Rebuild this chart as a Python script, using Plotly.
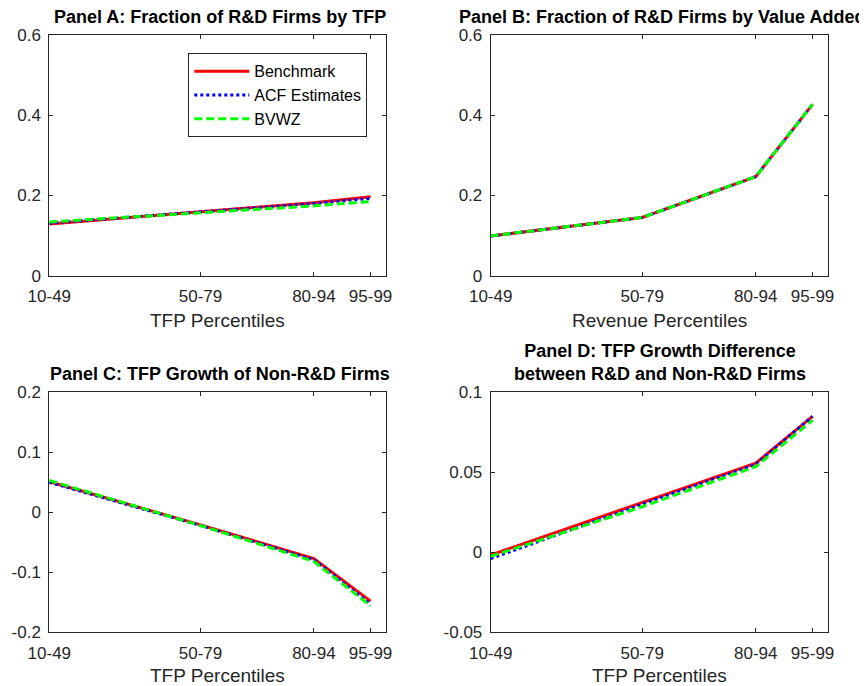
import plotly.graph_objects as go

# the page body has an 8px margin, so the figure is a bit smaller than the window
OFF = 8
W, H = 867 - OFF, 686 - OFF

# percentile groups (lower bound is the x position)
x_pos = [10, 50, 80, 95]
x_labels = ["10-49", "50-79", "80-94", "95-99"]

series_names = ["Benchmark", "ACF Estimates", "BVWZ"]

# Panel A: fraction of R&D firms by TFP
a_bench = [0.129, 0.160, 0.182, 0.197]
a_acf = [0.131, 0.159, 0.180, 0.193]
a_bvwz = [0.134, 0.157, 0.174, 0.185]

# Panel B: fraction of R&D firms by value added
b_bench = [0.099, 0.145, 0.247, 0.427]
b_acf = [0.099, 0.145, 0.247, 0.427]
b_bvwz = [0.099, 0.145, 0.247, 0.427]

# Panel C: TFP growth of non-R&D firms
c_bench = [0.051, -0.021, -0.077, -0.148]
c_acf = [0.050, -0.022, -0.079, -0.153]
c_bvwz = [0.053, -0.022, -0.082, -0.156]

# Panel D: TFP growth difference
d_bench = [-0.0017, 0.031, 0.0557, 0.085]
d_acf = [-0.0040, 0.030, 0.0550, 0.085]
d_bvwz = [-0.0025, 0.0285, 0.0535, 0.0825]

ab_ticks = [0, 0.2, 0.4, 0.6]
ab_ticktext = ["0", "0.2", "0.4", "0.6"]
c_ticks = [-0.2, -0.1, 0, 0.1, 0.2]
c_ticktext = ["-0.2", "-0.1", "0", "0.1", "0.2"]
d_ticks = [-0.05, 0, 0.05, 0.1]
d_ticktext = ["-0.05", "0", "0.05", "0.1"]

FONT = "Liberation Sans, Arial, Helvetica, sans-serif"
AX = "#262626"


# page pixel -> paper fraction
def px_x(p):
    return (p - OFF) / W


def px_y(p):
    return 1 - (p - OFF) / H


styles = [
    dict(color="#ff0000", width=3, dash="solid"),
    dict(color="#0000ff", width=3, dash="dot"),
    dict(color="#00ff00", width=3, dash="8px,4px"),
]

panels = [
    ("x", "y", [a_bench, a_acf, a_bvwz]),
    ("x2", "y2", [b_bench, b_acf, b_bvwz]),
    ("x3", "y3", [c_bench, c_acf, c_bvwz]),
    ("x4", "y4", [d_bench, d_acf, d_bvwz]),
]

fig = go.Figure()
for k, (xa, ya, data) in enumerate(panels):
    for name, vals, st in zip(series_names, data, styles):
        fig.add_trace(go.Scatter(
            x=x_pos, y=vals, mode="lines", name=name,
            line=st, xaxis=xa, yaxis=ya,
            showlegend=(k == 0),
        ))

left_dom = [px_x(49.3), px_x(385.7)]
right_dom = [px_x(490.7), px_x(827.7)]
top_dom = [px_y(275.7), px_y(35)]
bot_dom = [px_y(632.3), px_y(392.3)]


def xaxis(dom, anchor):
    return dict(
        domain=dom, anchor=anchor, range=[10, 99],
        tickvals=x_pos, ticktext=x_labels,
        ticks="inside", ticklen=4, tickcolor=AX, ticklabelstandoff=5,
        showline=True, linecolor=AX, linewidth=1, mirror="allticks",
        showgrid=False, zeroline=False, automargin=False,
        tickfont=dict(family=FONT, size=17, color=AX),
    )


def yaxis(dom, anchor, rng, tv, tt):
    return dict(
        domain=dom, anchor=anchor, range=rng,
        tickvals=tv, ticktext=tt,
        ticks="inside", ticklen=4, tickcolor=AX, ticklabelstandoff=4,
        showline=True, linecolor=AX, linewidth=1, mirror="allticks",
        showgrid=False, zeroline=False, automargin=False,
        tickfont=dict(family=FONT, size=17, color=AX),
    )


fig.update_layout(
    width=W, height=H,
    margin=dict(l=0, r=0, t=0, b=0),
    paper_bgcolor="white", plot_bgcolor="white",
    font=dict(family=FONT, color=AX),
    xaxis=xaxis(left_dom, "y"),
    yaxis=yaxis(top_dom, "x", [0, 0.6], ab_ticks, ab_ticktext),
    xaxis2=xaxis(right_dom, "y2"),
    yaxis2=yaxis(top_dom, "x2", [0, 0.6], ab_ticks, ab_ticktext),
    xaxis3=xaxis(left_dom, "y3"),
    yaxis3=yaxis(bot_dom, "x3", [-0.2, 0.2], c_ticks, c_ticktext),
    xaxis4=xaxis(right_dom, "y4"),
    yaxis4=yaxis(bot_dom, "x4", [-0.05, 0.1], d_ticks, d_ticktext),
    legend=dict(
        x=px_x(367.3), y=px_y(53.3), xanchor="right", yanchor="top",
        bgcolor="white", bordercolor=AX, borderwidth=1,
        font=dict(family=FONT, size=16, color="black"),
        tracegroupgap=0, itemwidth=55,
    ),
)

titles = [
    ("<b>Panel A: Fraction of R&D Firms by TFP</b>", 220, 17),
    ("<b>Panel B: Fraction of R&D Firms by Value Added</b>", 662, 17),
    ("<b>Panel C: TFP Growth of Non-R&D Firms</b>", 220, 374),
    ("<b>Panel D: TFP Growth Difference<br>between R&D and Non-R&D Firms</b>", 660, 362.5),
]
for text, cx, cy in titles:
    fig.add_annotation(
        text=text, x=px_x(cx), y=px_y(cy), xref="paper", yref="paper",
        xanchor="center", yanchor="middle", showarrow=False,
        font=dict(family=FONT, size=18, color="black"),
    )

xtitles = [
    ("TFP Percentiles", 217.5, 320),
    ("Revenue Percentiles", 659, 320),
    ("TFP Percentiles", 217.5, 675),
    ("TFP Percentiles", 659, 675),
]
for text, cx, cy in xtitles:
    fig.add_annotation(
        text=text, x=px_x(cx), y=px_y(cy), xref="paper", yref="paper",
        xanchor="center", yanchor="middle", showarrow=False,
        font=dict(family=FONT, size=19, color=AX),
    )

fig.write_html("out.html")
